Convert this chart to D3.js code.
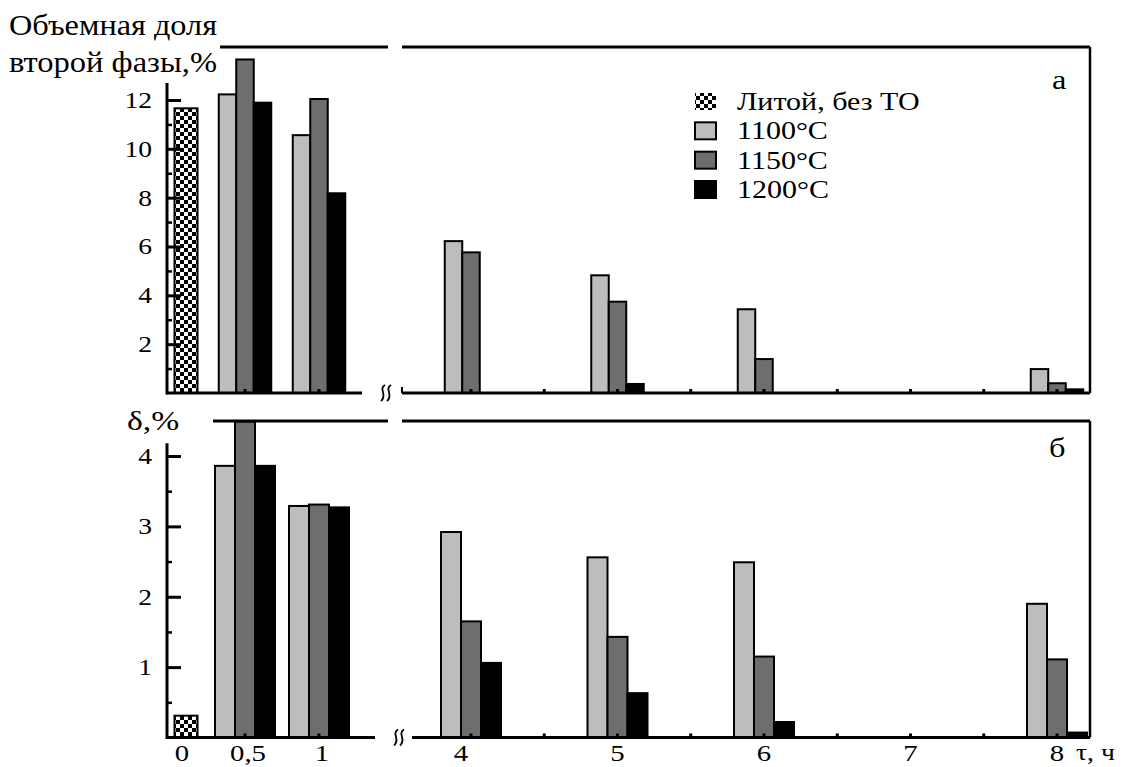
<!DOCTYPE html>
<html>
<head>
<meta charset="utf-8">
<script src="https://cdn.jsdelivr.net/npm/d3@7"></script>
<style>
  body { margin: 0; background: #fff; }
  svg text { font-family: "Liberation Serif", "Times New Roman", Tinos, "DejaVu Serif", serif !important; fill: #000; }
</style>
</head>
<body>
<svg id="chart"></svg>
<script>
// series and time points
const seriesNames = ["Литой, без ТО", "1100°C", "1150°C", "1200°C"];
const hours = [0.5, 1, 4, 5, 6, 8];
const leftLabels = ["0", "0,5", "1"];
const rightLabels = ["4", "5", "6", "7", "8"];

// panel a: volume fraction of second phase, %
const castFraction = 11.66;
const fraction1100 = [12.23, 10.56, 6.22, 4.82, 3.43, 0.98];
const fraction1150 = [13.66, 12.04, 5.76, 3.74, 1.39, 0.4];
const fraction1200 = [11.89, 8.18, 0, 0.37, 0, 0.15];

// panel b: delta, %
const castDelta = 0.31;
const delta1100 = [3.86, 3.29, 2.92, 2.56, 2.49, 1.9];
const delta1150 = [4.49, 3.31, 1.65, 1.43, 1.15, 1.11];
const delta1200 = [3.86, 3.27, 1.06, 0.63, 0.22, 0.07];

const topTicks = [2, 4, 6, 8, 10, 12];
const topMinor = [1, 3, 5, 7, 9, 11];
const botTicks = [1, 2, 3, 4];
const botMinor = [0.5, 1.5, 2.5, 3.5];

const w = 1125;
const h = 767;
const fills = ["url(#checker)", "#bdbdbd", "#6e6e6e", "#000"];
const SX = 1.2; // the scan is stretched sideways, so is the text

const svg = d3.select("#chart").attr("width", w).attr("height", h);

// checker pattern for cast sample
const pat = svg.append("defs").append("pattern")
  .attr("id", "checker").attr("patternUnits", "userSpaceOnUse")
  .attr("width", 8).attr("height", 8);
pat.append("rect").attr("width", 8).attr("height", 8).attr("fill", "#fff");
pat.append("rect").attr("width", 4).attr("height", 4).attr("fill", "#000");
pat.append("rect").attr("x", 4).attr("y", 4).attr("width", 4).attr("height", 4).attr("fill", "#000");

function txt(parent, x, y, str, size, anchor) {
  return parent.append("text")
    .attr("transform", `translate(${x},${y}) scale(${SX},1)`)
    .attr("font-size", size)
    .attr("text-anchor", anchor || "start")
    .text(str);
}

// broken time axis: left part 0..1 h, right part 4..8 h
const xLeft = d3.scaleLinear().domain([0, 1]).range([171, 319]);
const xRight = d3.scaleLinear().domain([4, 8]).range([471, 1057]);
const xTime = (t) => (t <= 1 ? xLeft(t) : xRight(t));
const castX = xLeft(0) + 15;

const axisX = 167;
const rightEdge = 1090;

function wave(g, cx, cy) {
  [-3, 3].forEach((dx) => {
    const x = cx + dx;
    g.append("path")
      .attr("d", `M${x + 2},${cy - 8} C${x - 5},${cy - 4} ${x + 5},${cy + 2} ${x - 2},${cy + 8}`)
      .attr("fill", "none").attr("stroke", "#000").attr("stroke-width", 1.8);
  });
}

function drawPanel(opt) {
  const y = opt.y;
  const g = svg.append("g");
  const base = y(0);

  // bars
  const rows = [];
  rows.push({ s: 0, x: castX, v: opt.cast });
  opt.values.forEach((vals, si) => {
    vals.forEach((v, i) => {
      if (v > 0) rows.push({ s: si + 1, x: xTime(hours[i]) + (si - 1) * opt.bw, v: v });
    });
  });
  g.selectAll("rect.bar")
    .data(rows)
    .enter()
    .append("rect")
    .attr("class", "bar")
    .attr("x", (d) => d.x - (d.s === 0 ? 11.5 : opt.bw / 2))
    .attr("width", (d) => (d.s === 0 ? 23 : opt.bw))
    .attr("y", (d) => y(d.v))
    .attr("height", (d) => base - y(d.v))
    .attr("fill", (d) => fills[d.s])
    .attr("stroke", "#000")
    .attr("stroke-width", 2);

  // frame: top line (broken), right border
  g.append("line").attr("x1", opt.topStart).attr("x2", 388)
    .attr("y1", opt.topY).attr("y2", opt.topY).attr("stroke", "#000").attr("stroke-width", 3);
  g.append("line").attr("x1", 402).attr("x2", rightEdge)
    .attr("y1", opt.topY).attr("y2", opt.topY).attr("stroke", "#000").attr("stroke-width", 3);
  g.append("line").attr("x1", rightEdge).attr("x2", rightEdge)
    .attr("y1", opt.topY).attr("y2", base).attr("stroke", "#000").attr("stroke-width", 2.5);

  // baseline (broken)
  g.append("line").attr("x1", axisX).attr("x2", opt.leftEnd)
    .attr("y1", base).attr("y2", base).attr("stroke", "#000").attr("stroke-width", 3);
  g.append("line").attr("x1", opt.rightStart).attr("x2", rightEdge)
    .attr("y1", base).attr("y2", base).attr("stroke", "#000").attr("stroke-width", 3);
  if (opt.stub) {
    g.append("line").attr("x1", opt.rightStart).attr("x2", opt.rightStart)
      .attr("y1", base - 6).attr("y2", base).attr("stroke", "#000").attr("stroke-width", 2);
  }
  wave(g, opt.breakX, base);

  // small time ticks on baseline
  const tTicks = [0.5, 1, 4, 4.5, 5, 5.5, 6, 6.5, 7, 7.5, 8];
  g.selectAll("rect.tt")
    .data(tTicks)
    .enter()
    .append("rect")
    .attr("class", "tt")
    .attr("x", (d) => xTime(d) - 1.5)
    .attr("y", base - 4)
    .attr("width", 3)
    .attr("height", 4)
    .attr("fill", "#000");

  // y axis
  const ax = g.append("g").attr("transform", `translate(${axisX},0)`);
  ax.call(d3.axisLeft(y).tickValues(opt.ticks).tickSizeInner(-14).tickSizeOuter(0).tickPadding(15).tickFormat(d3.format("d")));
  ax.select(".domain").remove();
  ax.selectAll(".tick line").attr("stroke-width", 3);
  ax.selectAll(".tick text")
    .attr("font-size", 23)
    .attr("x", -15 / SX)
    .attr("transform", `scale(${SX},1)`);
  const mx = g.append("g").attr("transform", `translate(${axisX},0)`);
  mx.call(d3.axisLeft(y).tickValues(opt.minor).tickSizeInner(-5).tickSizeOuter(0).tickFormat(""));
  mx.select(".domain").remove();
  mx.selectAll(".tick line").attr("stroke-width", 2.5);
  g.append("line").attr("x1", axisX).attr("x2", axisX)
    .attr("y1", y(opt.axisTop)).attr("y2", base + 1.5)
    .attr("stroke", "#000").attr("stroke-width", 3);

  // panel letter
  txt(g, opt.letterX, opt.letterY, opt.letter, 27);
  return g;
}

const yTop = d3.scaleLinear().domain([0, 12]).range([393, 100]);
const yBot = d3.scaleLinear().domain([0, 4]).range([737.5, 456]);

drawPanel({
  y: yTop, cast: castFraction, values: [fraction1100, fraction1150, fraction1200],
  bw: 17.5, topY: 47, topStart: 220, leftEnd: 362, rightStart: 402, breakX: 386, stub: true,
  ticks: topTicks, minor: topMinor, axisTop: 12.7, letter: "а", letterX: 1052, letterY: 89
});

drawPanel({
  y: yBot, cast: castDelta, values: [delta1100, delta1150, delta1200],
  bw: 20, topY: 421, topStart: 213, leftEnd: 375, rightStart: 412, breakX: 399, stub: false,
  ticks: botTicks, minor: botMinor, axisTop: 4.18, letter: "б", letterX: 1049, letterY: 457
});

// x labels (bottom)
const xLabelData = leftLabels.map((l, i) => ({ l: l, x: i === 0 ? castX - 4 : xLeft(+l.replace(",", ".")) + 3 }))
  .concat(rightLabels.map((l) => ({ l: l, x: xRight(+l) - (l === "4" ? 10 : 0) })));
const xl = svg.append("g");
xLabelData.forEach((d) => txt(xl, d.x, 761, d.l, 24, "middle"));
txt(svg, 1076, 760, "τ, ч", 23);

// axis titles
svg.append("text").attr("x", 9).attr("y", 35).attr("font-size", 29)
  .attr("textLength", 208).attr("lengthAdjust", "spacingAndGlyphs").text("Объемная доля");
svg.append("text").attr("x", 9).attr("y", 72).attr("font-size", 29)
  .attr("textLength", 208).attr("lengthAdjust", "spacingAndGlyphs").text("второй фазы,%");
txt(svg, 127, 430, "δ,%", 28);

// legend
const ly = d3.scalePoint().domain(seriesNames).range([110, 198]);
const leg = svg.append("g");
leg.selectAll("rect")
  .data(seriesNames)
  .enter()
  .append("rect")
  .attr("x", 695)
  .attr("y", (d) => ly(d) - 17)
  .attr("width", 21)
  .attr("height", 17)
  .attr("fill", (d, i) => fills[i])
  .attr("stroke", (d, i) => (i === 0 ? "none" : "#000"))
  .attr("stroke-width", 2);
seriesNames.forEach((d) => txt(leg, 737, ly(d), d, 25));
</script>
</body>
</html>
